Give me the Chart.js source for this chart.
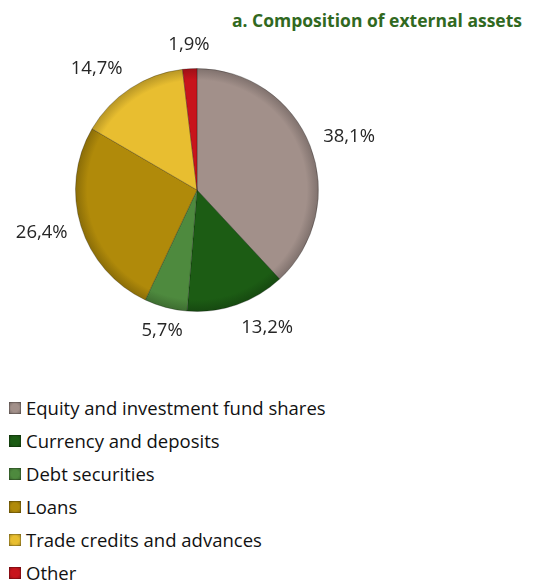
<!DOCTYPE html>
<html>
<head>
<meta charset="utf-8">
<script src="https://cdn.jsdelivr.net/npm/chart.js@4"></script>
<style>
  body { margin: 0; background: #fff; width: 553px; height: 585px; position: relative; overflow: hidden; font-family: "Open Sans", sans-serif; }
  #title { position: absolute; right: 31px; top: 8px; font: bold 17.5px "Open Sans", sans-serif; color: #31691f; white-space: nowrap; }
  #wrap { position: absolute; left: 0; top: 0; width: 394px; height: 380px; }
  #legend { position: absolute; left: 9px; top: 395px; }
  .item { height: 33px; display: flex; align-items: flex-start; font-size: 18.5px; line-height: 25px; color: #111; white-space: nowrap; }
  .box { width: 12px; height: 12px; margin-right: 5px; margin-top: 7px; box-shadow: inset 0 0 0 1px rgba(0,0,0,0.2); }
</style>
</head>
<body>
<div id="title">a. Composition of external assets</div>
<div id="wrap"><canvas id="myChart"></canvas></div>
<div id="legend"></div>
<script>
const labels = ['Equity and investment fund shares', 'Currency and deposits', 'Debt securities', 'Loans', 'Trade credits and advances', 'Other']
const shares = [38.1, 13.2, 5.7, 26.4, 14.7, 1.9]
const colours = ['#a2908a', '#1c5c14', '#4e8a3e', '#b08a0a', '#e8be30', '#c8141c']

function darker(hex, f) {
  const n = parseInt(hex.slice(1), 16)
  const r = Math.round((n >> 16) * f), g = Math.round(((n >> 8) & 255) * f), b = Math.round((n & 255) * f)
  return 'rgb(' + r + ',' + g + ',' + b + ')'
}

const legendDiv = document.getElementById('legend')
labels.forEach((l, i) => {
  const row = document.createElement('div')
  row.className = 'item'
  const box = document.createElement('span')
  box.className = 'box'
  box.style.background = 'radial-gradient(circle, ' + colours[i] + ' 45%, ' + darker(colours[i], 0.7) + ')'
  row.appendChild(box)
  row.appendChild(document.createTextNode(l))
  legendDiv.appendChild(row)
})

// percentage labels outside each slice
const outLabels = {
  id: 'outLabels',
  afterDatasetsDraw(chart) {
    const c = chart.ctx
    const meta = chart.getDatasetMeta(0)
    c.save()
    c.font = '18.5px "Open Sans", sans-serif'
    c.fillStyle = '#262626'
    c.textAlign = 'center'
    c.textBaseline = 'middle'
    meta.data.forEach((arc, i) => {
      const p = arc.getProps(['x', 'y', 'startAngle', 'endAngle', 'outerRadius'], true)
      const mid = (p.startAngle + p.endAngle) / 2
      const txt = shares[i].toFixed(1).replace('.', ',') + '%'
      const w = c.measureText(txt).width
      const dx = Math.cos(mid), dy = Math.sin(mid)
      const r = p.outerRadius + 14
      // labels on the sides sit with their inner edge at the anchor, top/bottom ones are centred
      const sx = Math.abs(dx) > 0.3 ? Math.sign(dx) * w / 2 : 0
      c.fillText(txt, p.x + dx * r + sx, p.y + dy * r + dy * 10)
    })
    c.restore()
  }
}

const ctx = document.getElementById('myChart')
const chart = new Chart(ctx, {
  type: 'pie',
  data: {
    labels: labels,
    datasets: [{
      data: shares,
      backgroundColor: (context) => {
        const ch = context.chart
        const a = ch.chartArea
        const col = colours[context.dataIndex]
        if (!a) return col
        const cx = (a.left + a.right) / 2, cy = (a.top + a.bottom) / 2
        const rad = Math.min(a.right - a.left, a.bottom - a.top) / 2
        const g = ch.ctx.createRadialGradient(cx, cy, 0, cx, cy, rad)
        g.addColorStop(0, col)
        g.addColorStop(0.9, col)
        g.addColorStop(1, darker(col, 0.78))
        return g
      },
      borderColor: 'rgba(0,0,0,0.25)',
      borderWidth: 1
    }]
  },
  options: {
    responsive: true,
    maintainAspectRatio: false,
    animation: false,
    layout: { padding: 68 },
    plugins: { legend: { display: false }, tooltip: { enabled: false } }
  },
  plugins: [outLabels]
})
</script>
</body>
</html>
